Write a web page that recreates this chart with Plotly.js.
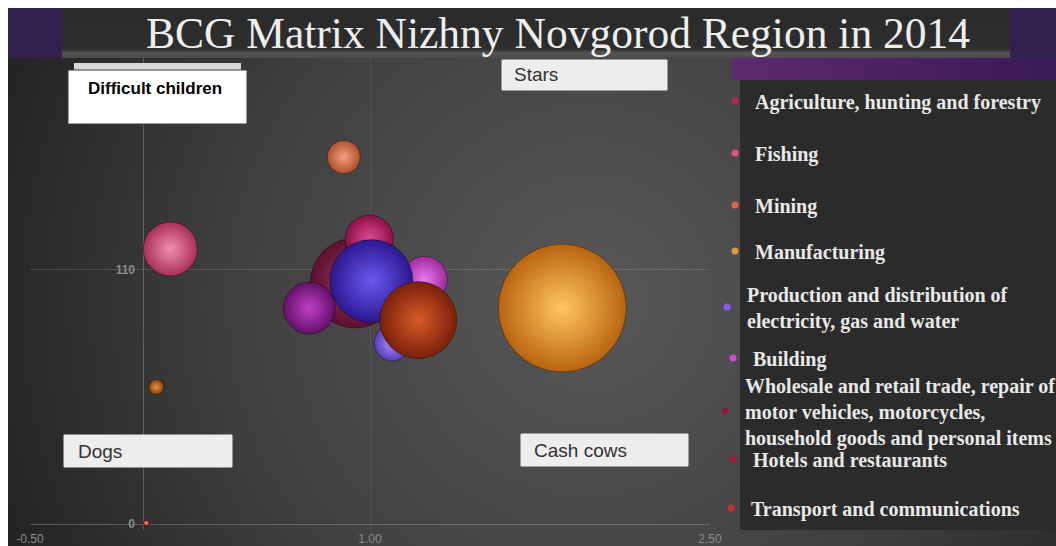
<!DOCTYPE html>
<html>
<head>
<meta charset="utf-8">
<script src="https://cdn.plot.ly/plotly-3.0.1.min.js"></script>
<style>html,body{margin:0;padding:0;background:#fff;}#chart{width:1056px;height:546px;}</style>
</head>
<body>
<div id="chart"></div>
<script>
// ---------------- DATA ----------------
const chartTitle = "BCG Matrix Nizhny Novgorod Region in 2014";

// Legend entries (sectors shown in the legend)
const legendSectors = [
  "Agriculture, hunting and forestry",
  "Fishing",
  "Mining",
  "Manufacturing",
  "Production and distribution of<br>electricity, gas and water",
  "Building",
  "Wholesale and retail trade, repair of<br>motor vehicles, motorcycles,<br>household goods and personal items",
  "Hotels and restaurants",
  "Transport and communications"
];
const legendColors = ["#c0205a","#e0508a","#e0604a","#e09a40","#8a5ae8","#d848d8","#8a1838","#a01a3a","#c83030"];

// Bubbles (drawing order: back to front)
const bubbleNames = [
  "Fishing",
  "Hotels and restaurants",
  "Other sector",
  "Mining",
  "Manufacturing",
  "Wholesale and retail trade, repair of motor vehicles, motorcycles, household goods and personal items",
  "Agriculture, hunting and forestry",
  "Building",
  "Production and distribution of electricity, gas and water",
  "Other sector",
  "Other sector",
  "Transport and communications"
];
const relativeMarketShare = [0.119, 0.013, 0.057, 0.884, 1.848, 0.935, 0.997, 1.24, 1.098, 0.732, 1.006, 1.213];
const marketGrowth        = [119.1, 0.4,   59.3,  158.9, 93.5,  104.4, 123.4, 106.0, 78.4, 93.5,  105.2, 88.3];
const sectorVolume        = [29.2,  0.36,  2.25,  10.9,  163.8, 81.0,  23.0,  21.2,  13.0, 27.0,  68.9,  59.3];
const bubbleEdge  = ["#a83058","#a02020","#8a4208","#b0502e","#b86410","#5a1030","#8a1048","#9a2a9c","#5a3ab8","#641068","#2c1890","#7a200a"];
const bubbleLight = ["#f090b0","#ff9080","#e89040","#f4a080","#ffc860","#a03a62","#e04a90","#ec78ee","#a890ff","#c040c8","#6a58f0","#d85a28"];

const xTickVals = [-0.5, 1.0, 2.5];
const xTickText = ["-0.50", "1.00", "2.50"];
const yTickVals = [0, 110];
const yTickText = ["0", "110"];

const quadrantLabels = ["Difficult children", "Stars", "Dogs", "Cash cows"];

// ---------------- LAYOUT HELPERS ----------------
const W = 1056, H = 546;
const px = x => x / W;
const py = y => 1 - y / H;

// background (decorative slide backdrop)
const bgSvg =
`<svg xmlns='http://www.w3.org/2000/svg' width='1056' height='546' viewBox='0 0 1056 546' preserveAspectRatio='none'>
<defs>
<radialGradient id='bg' cx='590' cy='300' r='640' gradientUnits='userSpaceOnUse'>
<stop offset='0' stop-color='#585858'/><stop offset='0.55' stop-color='#404040'/><stop offset='1' stop-color='#222222'/></radialGradient>
<linearGradient id='pb' x1='0' y1='0' x2='1' y2='0'><stop offset='0' stop-color='#5e2a6e'/><stop offset='1' stop-color='#381a56'/></linearGradient>
<linearGradient id='tb' x1='0' y1='0' x2='0' y2='1'><stop offset='0' stop-color='#2a2a2a'/><stop offset='0.82' stop-color='#2e2e2e'/><stop offset='0.9' stop-color='#555555'/><stop offset='1' stop-color='#4a4a4a'/></linearGradient>
</defs>
<rect x='0' y='0' width='1056' height='546' fill='#ffffff'/>
<rect x='8' y='8' width='1048' height='50' fill='#34204e'/>
<rect x='62' y='8' width='948' height='50' fill='url(#tb)'/>
<rect x='8' y='58' width='1048' height='488' fill='url(#bg)'/>
<rect x='732' y='58' width='324' height='22' fill='url(#pb)'/>
<rect x='740' y='80' width='316' height='450' fill='#2b2b2b'/>
</svg>`;

// ---------------- TRACES ----------------
const traces = [];
for (let i = 0; i < bubbleNames.length; i++) {
  traces.push({
    type: "scatter",
    mode: "markers",
    name: bubbleNames[i],
    x: [relativeMarketShare[i]],
    y: [marketGrowth[i]],
    showlegend: false,
    hovertemplate: bubbleNames[i] + "<br>Share: %{x}<br>Growth: %{y}<extra></extra>",
    marker: {
      size: [sectorVolume[i]],
      sizemode: "area",
      sizeref: 0.02,
      color: bubbleEdge[i],
      gradient: { type: "radial", color: bubbleLight[i] },
      line: { color: "rgba(0,0,0,0.35)", width: 1 },
      opacity: 1
    }
  });
}

// legend-only entries, each in its own legend box
const legendCenters = [101, 153, 205, 251, 307, 358, 411, 459, 508];
const legendLeft    = [715, 715, 715, 715, 707, 713, 705, 713, 711];
const layoutLegends = {};
for (let i = 0; i < legendSectors.length; i++) {
  const key = i === 0 ? "legend" : "legend" + (i + 1);
  traces.push({
    type: "scatter",
    mode: "markers",
    name: legendSectors[i],
    x: [null], y: [null],
    legend: key,
    showlegend: true,
    marker: { size: 7, color: legendColors[i], line: { width: 0 } }
  });
  layoutLegends[key] = {
    x: px(legendLeft[i]), xanchor: "left",
    y: py(legendCenters[i]), yanchor: "middle",
    bgcolor: "rgba(0,0,0,0)",
    borderwidth: 0,
    font: { family: "Liberation Serif, Times New Roman, serif", size: 20, color: "#e8e8e8", weight: "bold" },
    itemclick: false, itemdoubleclick: false
  };
}

// quadrant boxes
const boxes = [
  { x0: 68, x1: 247, y0: 70, y1: 124, fill: "#ffffff", line: "#3a3a3a", tx: 86, ty: 89, size: 17, color: "#000000", weight: "bold" },
  { x0: 502, x1: 667, y0: 60, y1: 90, fill: "#ededed", line: "#ededed", tx: 512, ty: 75, size: 19, color: "#333333", weight: "normal" },
  { x0: 64, x1: 232, y0: 435, y1: 467, fill: "#ededed", line: "#ededed", tx: 76, ty: 452, size: 19, color: "#333333", weight: "normal" },
  { x0: 521, x1: 688, y0: 434, y1: 466, fill: "#ededed", line: "#ededed", tx: 532, ty: 450, size: 19, color: "#333333", weight: "normal" }
];
const shapes = [
  { type: "rect", xref: "paper", yref: "paper", x0: px(74), x1: px(241), y0: py(70), y1: py(63),
    fillcolor: "#d9d9d9", line: { width: 0 } }
];
const annotations = [];
boxes.forEach((b, i) => {
  shapes.push({ type: "rect", xref: "paper", yref: "paper", x0: px(b.x0), x1: px(b.x1), y0: py(b.y1), y1: py(b.y0),
    fillcolor: b.fill, line: { color: b.line, width: 1 } });
  annotations.push({ xref: "paper", yref: "paper", x: px(b.tx), y: py(b.ty), xanchor: "left", yanchor: "middle",
    text: quadrantLabels[i], showarrow: false,
    font: { family: "Liberation Sans, Arial, sans-serif", size: b.size, color: b.color, weight: b.weight } });
});

const layout = Object.assign({
  width: W, height: H,
  autosize: false,
  margin: { l: 0, r: 0, t: 0, b: 0, pad: 0, autoexpand: false },
  paper_bgcolor: "#ffffff",
  plot_bgcolor: "rgba(0,0,0,0)",
  title: {
    text: chartTitle,
    font: { family: "Liberation Serif, Times New Roman, serif", size: 43.5, color: "#eeeeee" },
    x: px(558), xanchor: "center", xref: "paper",
    y: 1 - 33 / H, yanchor: "middle", yref: "container"
  },
  xaxis: {
    domain: [px(30), px(710)],
    range: [-0.5, 2.5],
    tickvals: xTickVals, ticktext: xTickText,
    showgrid: true, gridcolor: "rgba(255,255,255,0.07)", gridwidth: 1,
    zeroline: true, zerolinecolor: "rgba(255,255,255,0.22)", zerolinewidth: 1,
    showline: false, ticks: "",
    tickfont: { family: "Liberation Sans Narrow, Arial, sans-serif", size: 12, color: "#8c8c8c" },
    fixedrange: true
  },
  yaxis: {
    domain: [16 / H, 488 / H],
    range: [-2.6, 201.8],
    anchor: "free", position: px(143),
    tickvals: yTickVals, ticktext: yTickText,
    showgrid: true, gridcolor: "rgba(255,255,255,0.13)", gridwidth: 1,
    zeroline: true, zerolinecolor: "rgba(255,255,255,0.22)", zerolinewidth: 1,
    showline: false, ticks: "", ticklabelstandoff: 8,
    tickfont: { family: "Liberation Sans, Arial, sans-serif", size: 12, color: "#8a8a8a", weight: "bold" },
    fixedrange: true
  },
  images: [{
    source: "data:image/svg+xml;charset=utf-8," + encodeURIComponent(bgSvg),
    xref: "paper", yref: "paper", x: 0, y: 1, sizex: 1, sizey: 1,
    xanchor: "left", yanchor: "top", sizing: "stretch", layer: "below"
  }],
  shapes: shapes,
  annotations: annotations,
  hovermode: "closest"
}, layoutLegends);

Plotly.newPlot("chart", traces, layout, { displayModeBar: false, staticPlot: false });
</script>
</body>
</html>
